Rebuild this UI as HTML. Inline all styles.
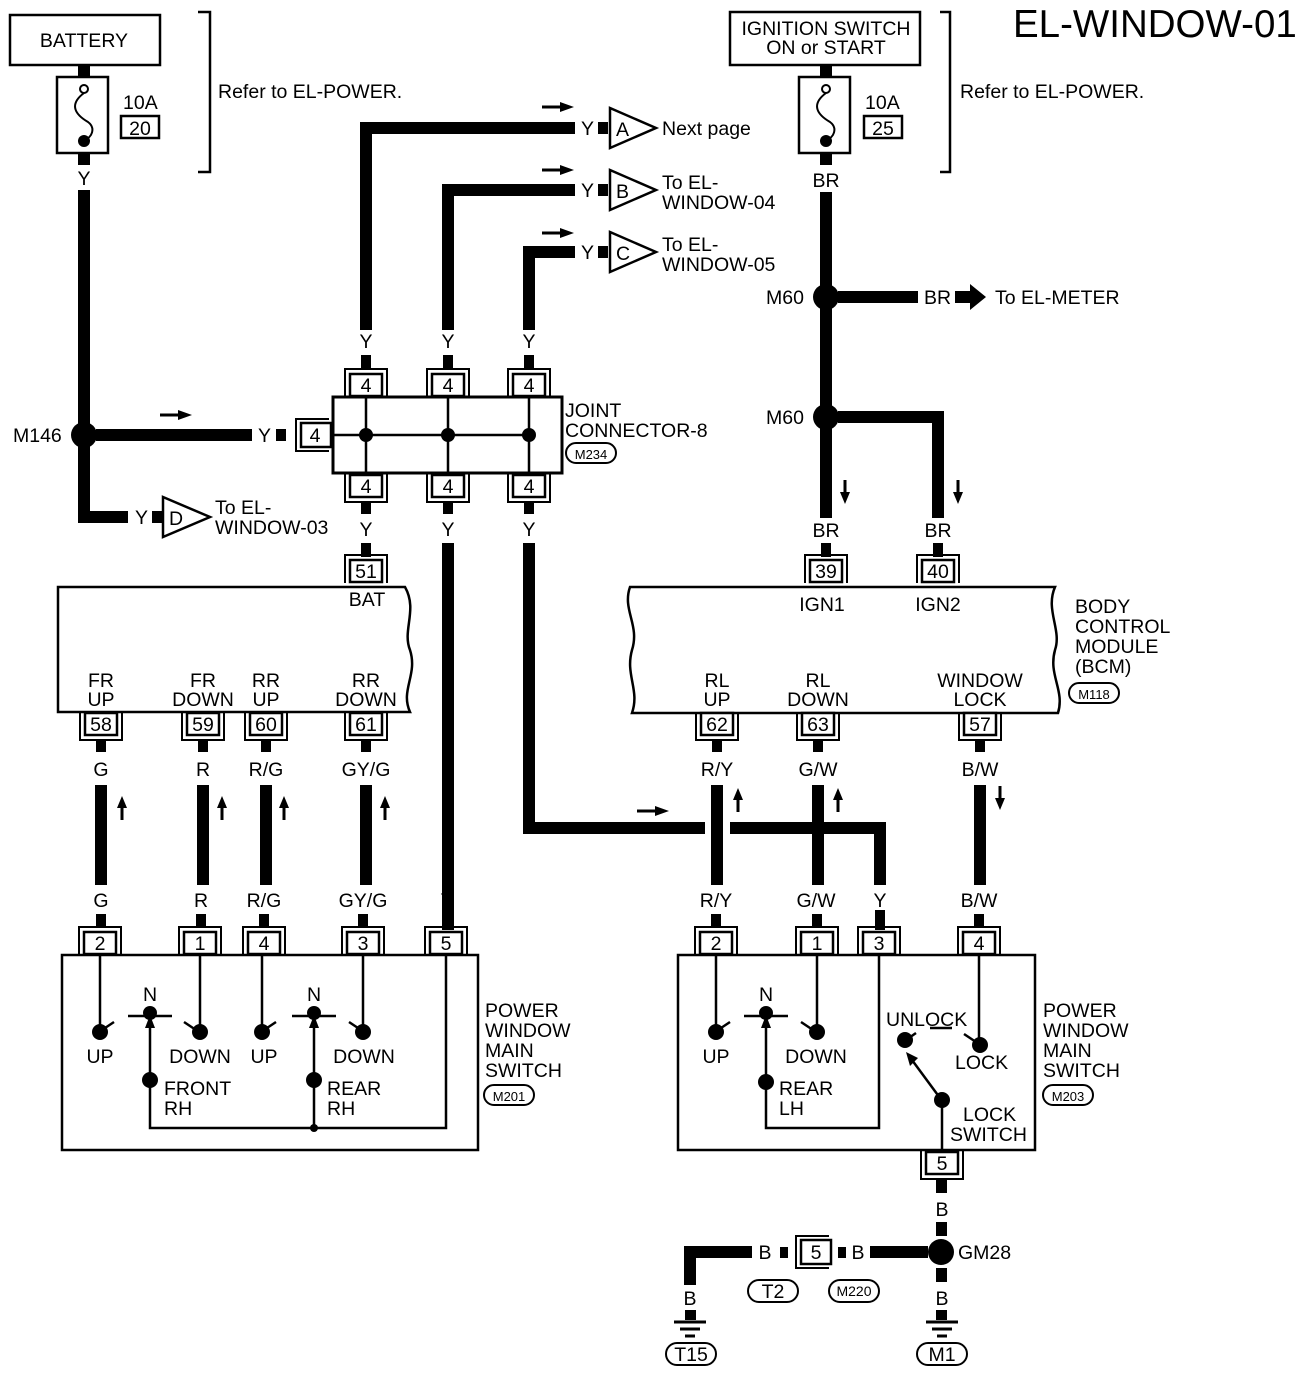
<!DOCTYPE html>
<html><head><meta charset="utf-8"><style>
html,body{margin:0;padding:0;background:#fff}
svg{display:block}
text{font-family:"Liberation Sans",Arial,sans-serif;fill:#000;font-size:19.5px}
</style></head><body>
<svg width="1312" height="1374" viewBox="0 0 1312 1374" xmlns="http://www.w3.org/2000/svg">
<defs>
<g id="ct"><rect x="-16" y="-11" width="32" height="22" fill="#fff" stroke="#000" stroke-width="2.5"/><path d="M-21,12 V-16 H21 V12" fill="none" stroke="#000" stroke-width="2"/></g>
<g id="cb"><rect x="-16" y="-11" width="32" height="22" fill="#fff" stroke="#000" stroke-width="2.5"/><path d="M-21,-12 V16 H21 V-12" fill="none" stroke="#000" stroke-width="2"/></g>
<g id="cs"><rect x="-14" y="-12" width="30" height="24" fill="#fff" stroke="#000" stroke-width="2.5"/><path d="M14,-16 H-19 V16 H14" fill="none" stroke="#000" stroke-width="2"/></g>
<g id="gnd" stroke="#000" stroke-width="3"><line x1="-16" y1="0" x2="16" y2="0"/><line x1="-10" y1="7" x2="10" y2="7"/><line x1="-5" y1="14" x2="5" y2="14"/></g>
<g id="aup"><line x1="0" y1="12" x2="0" y2="-2" stroke="#000" stroke-width="3"/><path d="M-5,0 L0,-12 L5,0Z"/></g>
<g id="adn"><line x1="0" y1="-12" x2="0" y2="2" stroke="#000" stroke-width="3"/><path d="M-5,0 L0,12 L5,0Z"/></g>
<g id="art"><line x1="-18" y1="0" x2="2" y2="0" stroke="#000" stroke-width="3"/><path d="M0,-5 L14,0 L0,5Z"/></g>
</defs>

<text x="1013" y="37" style="font-size:38.5px">EL-WINDOW-01</text>

<rect x="10" y="15" width="150" height="50" fill="none" stroke="#000" stroke-width="2.5"/>
<text x="84" y="47" text-anchor="middle">BATTERY</text>
<rect x="78" y="65" width="12" height="12"/>
<rect x="57" y="77" width="51" height="76" fill="none" stroke="#000" stroke-width="2.5"/>
<circle cx="84" cy="89" r="4" fill="#fff" stroke="#000" stroke-width="2"/>
<path d="M84,93 C68,105 76,115 88,122 C96,128 92,138 84,140" fill="none" stroke="#000" stroke-width="2"/>
<circle cx="84" cy="141" r="6"/>
<rect x="78" y="153" width="12" height="12"/>
<text x="123" y="109">10A</text>
<rect x="121" y="116" width="38" height="22" fill="none" stroke="#000" stroke-width="2.5"/>
<text x="140" y="135" text-anchor="middle">20</text>
<path d="M198,12 H210 V172 H198" fill="none" stroke="#000" stroke-width="2.5"/>
<text x="218" y="98">Refer to EL-POWER.</text>
<text x="84" y="185" text-anchor="middle">Y</text>
<path d="M84,190 V517 H128" fill="none" stroke="#000" stroke-width="12"/>
<circle cx="84" cy="435" r="13"/>
<text x="13" y="442">M146</text>
<line x1="96" y1="435" x2="252" y2="435" stroke="#000" stroke-width="12"/>
<use href="#art" x="178" y="415"/>
<text x="258" y="442">Y</text>
<rect x="276" y="429" width="10" height="12"/>
<use href="#cs" x="315" y="435"/>
<text x="315" y="442" text-anchor="middle">4</text>
<text x="135" y="524">Y</text>
<rect x="152" y="511" width="10" height="12"/>
<path d="M163,497 L210,517 L163,537Z" fill="#fff" stroke="#000" stroke-width="2.5"/>
<text x="169" y="525">D</text>
<text x="215" y="514">To EL-</text>
<text x="215" y="534">WINDOW-03</text>

<rect x="333" y="397" width="229" height="76" fill="#fff" stroke="#000" stroke-width="3"/>
<g stroke="#000" stroke-width="2.5"><line x1="366" y1="397" x2="366" y2="473"/><line x1="448" y1="397" x2="448" y2="473"/><line x1="529" y1="397" x2="529" y2="473"/><line x1="333" y1="435" x2="529" y2="435"/></g>
<circle cx="366" cy="435" r="7"/><circle cx="448" cy="435" r="7"/><circle cx="529" cy="435" r="7"/>
<use href="#ct" x="366" y="385"/><text x="366" y="392" text-anchor="middle">4</text>
<use href="#ct" x="448" y="385"/><text x="448" y="392" text-anchor="middle">4</text>
<use href="#ct" x="529" y="385"/><text x="529" y="392" text-anchor="middle">4</text>
<use href="#cb" x="366" y="486"/><text x="366" y="493" text-anchor="middle">4</text>
<use href="#cb" x="448" y="486"/><text x="448" y="493" text-anchor="middle">4</text>
<use href="#cb" x="529" y="486"/><text x="529" y="493" text-anchor="middle">4</text>
<text x="565" y="417">JOINT</text>
<text x="565" y="437">CONNECTOR-8</text>
<rect x="566" y="443" width="50" height="20" rx="10" fill="none" stroke="#000" stroke-width="2"/>
<text x="591" y="459" text-anchor="middle" style="font-size:13px">M234</text>

<g fill="none" stroke="#000" stroke-width="12">
<path d="M366,330 V128 H575"/><path d="M448,330 V190 H575"/><path d="M529,330 V252 H575"/>
</g>
<g fill="#000"><rect x="361" y="355" width="10" height="14"/><rect x="443" y="355" width="10" height="14"/><rect x="524" y="355" width="10" height="14"/></g>
<text x="366" y="348" text-anchor="middle">Y</text><text x="448" y="348" text-anchor="middle">Y</text><text x="529" y="348" text-anchor="middle">Y</text>
<use href="#art" x="560" y="107"/><use href="#art" x="560" y="170"/><use href="#art" x="560" y="233"/>
<text x="581" y="135">Y</text><rect x="598" y="122" width="10" height="12"/>
<path d="M610,108 L656,128 L610,148Z" fill="#fff" stroke="#000" stroke-width="2.5"/><text x="616" y="136">A</text>
<text x="662" y="135">Next page</text>
<text x="581" y="197">Y</text><rect x="598" y="184" width="10" height="12"/>
<path d="M610,170 L656,190 L610,210Z" fill="#fff" stroke="#000" stroke-width="2.5"/><text x="616" y="198">B</text>
<text x="662" y="189">To EL-</text><text x="662" y="209">WINDOW-04</text>
<text x="581" y="259">Y</text><rect x="598" y="246" width="10" height="12"/>
<path d="M610,232 L656,252 L610,272Z" fill="#fff" stroke="#000" stroke-width="2.5"/><text x="616" y="260">C</text>
<text x="662" y="251">To EL-</text><text x="662" y="271">WINDOW-05</text>

<g fill="#000"><rect x="361" y="502" width="10" height="12"/><rect x="443" y="502" width="10" height="12"/><rect x="524" y="502" width="10" height="12"/></g>
<text x="366" y="536" text-anchor="middle">Y</text><text x="448" y="536" text-anchor="middle">Y</text><text x="529" y="536" text-anchor="middle">Y</text>
<rect x="361" y="543" width="10" height="14"/>
<use href="#ct" x="366" y="571"/><text x="366" y="578" text-anchor="middle">51</text>
<g fill="none" stroke="#000" stroke-width="12">
<path d="M448,543 V930"/>
<path d="M529,543 V828 H705"/>
<path d="M730,828 H880 V885"/>
</g>
<rect x="875" y="910" width="10" height="20"/>
<use href="#art" x="655" y="811"/>

<path d="M58,587 H405 C418,610 402,630 410,650 C418,675 400,690 410,712 H58 Z" fill="#fff" stroke="#000" stroke-width="2.5"/>
<text x="367" y="606" text-anchor="middle">BAT</text>
<text x="101" y="687" text-anchor="middle">FR</text><text x="101" y="706" text-anchor="middle">UP</text>
<text x="203" y="687" text-anchor="middle">FR</text><text x="203" y="706" text-anchor="middle">DOWN</text>
<text x="266" y="687" text-anchor="middle">RR</text><text x="266" y="706" text-anchor="middle">UP</text>
<text x="366" y="687" text-anchor="middle">RR</text><text x="366" y="706" text-anchor="middle">DOWN</text>
<use href="#cb" x="101" y="724"/><text x="101" y="731" text-anchor="middle">58</text>
<use href="#cb" x="203" y="724"/><text x="203" y="731" text-anchor="middle">59</text>
<use href="#cb" x="266" y="724"/><text x="266" y="731" text-anchor="middle">60</text>
<use href="#cb" x="366" y="724"/><text x="366" y="731" text-anchor="middle">61</text>
<g fill="#000"><rect x="96" y="740" width="10" height="12"/><rect x="198" y="740" width="10" height="12"/><rect x="261" y="740" width="10" height="12"/><rect x="361" y="740" width="10" height="12"/></g>
<text x="101" y="776" text-anchor="middle">G</text><text x="203" y="776" text-anchor="middle">R</text><text x="266" y="776" text-anchor="middle">R/G</text><text x="366" y="776" text-anchor="middle">GY/G</text>
<g stroke="#000" stroke-width="12"><line x1="101" y1="785" x2="101" y2="885"/><line x1="203" y1="785" x2="203" y2="885"/><line x1="266" y1="785" x2="266" y2="885"/><line x1="366" y1="785" x2="366" y2="885"/></g>
<use href="#aup" x="122" y="808"/><use href="#aup" x="222" y="808"/><use href="#aup" x="284" y="808"/><use href="#aup" x="385" y="808"/>
<text x="101" y="907" text-anchor="middle">G</text><text x="201" y="907" text-anchor="middle">R</text><text x="264" y="907" text-anchor="middle">R/G</text><text x="363" y="907" text-anchor="middle">GY/G</text><text x="447" y="907" text-anchor="middle">Y</text>
<g fill="#000"><rect x="96" y="914" width="10" height="14"/><rect x="196" y="914" width="10" height="14"/><rect x="259" y="914" width="10" height="14"/><rect x="358" y="914" width="10" height="14"/><rect x="442" y="914" width="10" height="14"/></g>

<rect x="62" y="955" width="416" height="195" fill="#fff" stroke="#000" stroke-width="2.5"/>
<use href="#ct" x="100" y="943"/><text x="100" y="950" text-anchor="middle">2</text>
<use href="#ct" x="200" y="943"/><text x="200" y="950" text-anchor="middle">1</text>
<use href="#ct" x="264" y="943"/><text x="264" y="950" text-anchor="middle">4</text>
<use href="#ct" x="363" y="943"/><text x="363" y="950" text-anchor="middle">3</text>
<use href="#ct" x="446" y="943"/><text x="446" y="950" text-anchor="middle">5</text>
<g stroke="#000" stroke-width="2.5" fill="none">
<line x1="100" y1="955" x2="100" y2="1032"/><line x1="200" y1="955" x2="200" y2="1032"/>
<line x1="262" y1="955" x2="262" y2="1032"/><line x1="363" y1="955" x2="363" y2="1032"/>
<path d="M150,1020 V1128 H446 V955"/><path d="M314,1020 V1128"/>
<line x1="128" y1="1016" x2="172" y2="1016"/><line x1="292" y1="1016" x2="336" y2="1016"/>
<line x1="102" y1="1030" x2="114" y2="1022"/><line x1="196" y1="1030" x2="184" y2="1022"/>
<line x1="264" y1="1030" x2="276" y2="1022"/><line x1="361" y1="1030" x2="349" y2="1022"/>
</g>
<circle cx="100" cy="1032" r="8"/><circle cx="200" cy="1032" r="8"/><circle cx="262" cy="1032" r="8"/><circle cx="363" cy="1032" r="8"/>
<circle cx="150" cy="1013" r="7"/><circle cx="314" cy="1013" r="7"/>
<path d="M145,1028 L150,1015 L155,1028Z"/><path d="M309,1028 L314,1015 L319,1028Z"/>
<circle cx="150" cy="1080" r="8"/><circle cx="314" cy="1080" r="8"/><circle cx="314" cy="1128" r="4"/>
<text x="150" y="1001" text-anchor="middle">N</text><text x="314" y="1001" text-anchor="middle">N</text>
<text x="100" y="1063" text-anchor="middle">UP</text><text x="200" y="1063" text-anchor="middle">DOWN</text>
<text x="264" y="1063" text-anchor="middle">UP</text><text x="364" y="1063" text-anchor="middle">DOWN</text>
<text x="164" y="1095">FRONT</text><text x="164" y="1115">RH</text>
<text x="327" y="1095">REAR</text><text x="327" y="1115">RH</text>
<text x="485" y="1017">POWER</text><text x="485" y="1037">WINDOW</text><text x="485" y="1057">MAIN</text><text x="485" y="1077">SWITCH</text>
<rect x="484" y="1085" width="50" height="20" rx="10" fill="none" stroke="#000" stroke-width="2"/>
<text x="509" y="1101" text-anchor="middle" style="font-size:13px">M201</text>

<rect x="730" y="12" width="190" height="53" fill="none" stroke="#000" stroke-width="2.5"/>
<text x="826" y="35" text-anchor="middle">IGNITION SWITCH</text>
<text x="826" y="54" text-anchor="middle">ON or START</text>
<rect x="820" y="65" width="12" height="12"/>
<rect x="799" y="77" width="51" height="76" fill="none" stroke="#000" stroke-width="2.5"/>
<circle cx="826" cy="89" r="4" fill="#fff" stroke="#000" stroke-width="2"/>
<path d="M826,93 C810,105 818,115 830,122 C838,128 834,138 826,140" fill="none" stroke="#000" stroke-width="2"/>
<circle cx="826" cy="141" r="6"/>
<rect x="820" y="153" width="12" height="12"/>
<text x="865" y="109">10A</text>
<rect x="864" y="116" width="38" height="22" fill="none" stroke="#000" stroke-width="2.5"/>
<text x="883" y="135" text-anchor="middle">25</text>
<path d="M940,12 H950 V172 H940" fill="none" stroke="#000" stroke-width="2.5"/>
<text x="960" y="98">Refer to EL-POWER.</text>
<text x="826" y="187" text-anchor="middle">BR</text>
<line x1="826" y1="192" x2="826" y2="518" stroke="#000" stroke-width="12"/>
<circle cx="826" cy="297" r="13"/><text x="766" y="304">M60</text>
<line x1="838" y1="297" x2="918" y2="297" stroke="#000" stroke-width="12"/>
<text x="924" y="304">BR</text>
<path d="M955,291 H970 V284 L986,297 L970,310 V303 H955Z"/>
<text x="995" y="304">To EL-METER</text>
<circle cx="826" cy="417" r="13"/><text x="766" y="424">M60</text>
<path d="M838,417 H938 V518" fill="none" stroke="#000" stroke-width="12"/>
<use href="#adn" x="845" y="492"/><use href="#adn" x="958" y="492"/>
<text x="826" y="537" text-anchor="middle">BR</text><text x="938" y="537" text-anchor="middle">BR</text>
<rect x="821" y="543" width="10" height="14"/><rect x="933" y="543" width="10" height="14"/>
<use href="#ct" x="826" y="571"/><text x="826" y="578" text-anchor="middle">39</text>
<use href="#ct" x="938" y="571"/><text x="938" y="578" text-anchor="middle">40</text>

<path d="M630,587 H1055 C1045,610 1062,630 1055,650 C1048,675 1065,690 1058,713 H632 C640,690 625,675 632,650 C640,625 622,610 630,587Z" fill="#fff" stroke="#000" stroke-width="2.5"/>
<text x="822" y="611" text-anchor="middle">IGN1</text><text x="938" y="611" text-anchor="middle">IGN2</text>
<text x="717" y="687" text-anchor="middle">RL</text><text x="717" y="706" text-anchor="middle">UP</text>
<text x="818" y="687" text-anchor="middle">RL</text><text x="818" y="706" text-anchor="middle">DOWN</text>
<text x="980" y="687" text-anchor="middle">WINDOW</text><text x="980" y="706" text-anchor="middle">LOCK</text>
<text x="1075" y="613">BODY</text><text x="1075" y="633">CONTROL</text><text x="1075" y="653">MODULE</text><text x="1075" y="673">(BCM)</text>
<rect x="1069" y="683" width="50" height="20" rx="10" fill="none" stroke="#000" stroke-width="2"/>
<text x="1094" y="699" text-anchor="middle" style="font-size:13px">M118</text>
<use href="#cb" x="717" y="724"/><text x="717" y="731" text-anchor="middle">62</text>
<use href="#cb" x="818" y="724"/><text x="818" y="731" text-anchor="middle">63</text>
<use href="#cb" x="980" y="724"/><text x="980" y="731" text-anchor="middle">57</text>
<g fill="#000"><rect x="712" y="740" width="10" height="12"/><rect x="813" y="740" width="10" height="12"/><rect x="975" y="740" width="10" height="12"/></g>
<text x="717" y="776" text-anchor="middle">R/Y</text><text x="818" y="776" text-anchor="middle">G/W</text><text x="980" y="776" text-anchor="middle">B/W</text>
<g stroke="#000" stroke-width="12"><line x1="717" y1="785" x2="717" y2="885"/><line x1="818" y1="785" x2="818" y2="885"/><line x1="980" y1="785" x2="980" y2="885"/></g>
<use href="#aup" x="738" y="800"/><use href="#aup" x="838" y="800"/><use href="#adn" x="1000" y="798"/>
<text x="716" y="907" text-anchor="middle">R/Y</text><text x="816" y="907" text-anchor="middle">G/W</text><text x="880" y="907" text-anchor="middle">Y</text><text x="979" y="907" text-anchor="middle">B/W</text>
<g fill="#000"><rect x="711" y="914" width="10" height="14"/><rect x="812" y="914" width="10" height="14"/><rect x="974" y="914" width="10" height="14"/></g>

<rect x="678" y="955" width="357" height="195" fill="#fff" stroke="#000" stroke-width="2.5"/>
<use href="#ct" x="716" y="943"/><text x="716" y="950" text-anchor="middle">2</text>
<use href="#ct" x="817" y="943"/><text x="817" y="950" text-anchor="middle">1</text>
<use href="#ct" x="879" y="943"/><text x="879" y="950" text-anchor="middle">3</text>
<use href="#ct" x="979" y="943"/><text x="979" y="950" text-anchor="middle">4</text>
<g stroke="#000" stroke-width="2.5" fill="none">
<line x1="716" y1="955" x2="716" y2="1032"/><line x1="817" y1="955" x2="817" y2="1032"/>
<path d="M766,1020 V1128 H879 V955"/>
<line x1="744" y1="1016" x2="788" y2="1016"/>
<line x1="718" y1="1030" x2="730" y2="1022"/><line x1="813" y1="1030" x2="801" y2="1022"/>
<line x1="979" y1="955" x2="979" y2="1043"/>
<line x1="942" y1="1100" x2="942" y2="1150"/>
<line x1="940" y1="1098" x2="912" y2="1060"/>
<line x1="930" y1="1028" x2="952" y2="1028"/>
<line x1="906" y1="1040" x2="916" y2="1033"/><line x1="976" y1="1042" x2="964" y2="1034"/>
</g>
<path d="M906,1052 L910,1066 L918,1058Z"/>
<circle cx="716" cy="1032" r="8"/><circle cx="817" cy="1032" r="8"/><circle cx="766" cy="1013" r="7"/>
<path d="M761,1028 L766,1015 L771,1028Z"/>
<circle cx="766" cy="1082" r="8"/>
<circle cx="905" cy="1040" r="8"/><circle cx="980" cy="1045" r="8"/><circle cx="942" cy="1100" r="8"/>
<text x="766" y="1001" text-anchor="middle">N</text>
<text x="716" y="1063" text-anchor="middle">UP</text><text x="816" y="1063" text-anchor="middle">DOWN</text>
<text x="779" y="1095">REAR</text><text x="779" y="1115">LH</text>
<text x="886" y="1026">UNLOCK</text><text x="955" y="1069">LOCK</text>
<text x="963" y="1121">LOCK</text><text x="950" y="1141">SWITCH</text>
<text x="1043" y="1017">POWER</text><text x="1043" y="1037">WINDOW</text><text x="1043" y="1057">MAIN</text><text x="1043" y="1077">SWITCH</text>
<rect x="1043" y="1085" width="50" height="20" rx="10" fill="none" stroke="#000" stroke-width="2"/>
<text x="1068" y="1101" text-anchor="middle" style="font-size:13px">M203</text>
<use href="#cb" x="942" y="1163"/><text x="942" y="1170" text-anchor="middle">5</text>

<g fill="#000"><rect x="936" y="1180" width="11" height="13"/><rect x="936" y="1222" width="11" height="14"/><rect x="936" y="1268" width="11" height="14"/><rect x="936" y="1310" width="11" height="10"/></g>
<text x="942" y="1216" text-anchor="middle">B</text>
<circle cx="941" cy="1252" r="13"/>
<text x="958" y="1259">GM28</text>
<line x1="870" y1="1252" x2="928" y2="1252" stroke="#000" stroke-width="12"/>
<text x="858" y="1259" text-anchor="middle">B</text>
<rect x="838" y="1247" width="8" height="11"/><rect x="780" y="1247" width="8" height="11"/>
<use href="#cs" x="815" y="1252"/><text x="816" y="1259" text-anchor="middle">5</text>
<text x="765" y="1259" text-anchor="middle">B</text>
<path d="M752,1252 H690 V1285" fill="none" stroke="#000" stroke-width="12"/>
<text x="690" y="1305" text-anchor="middle">B</text>
<rect x="685" y="1310" width="11" height="10"/>
<use href="#gnd" x="690" y="1322"/>
<rect x="666" y="1343" width="50" height="22" rx="11" fill="none" stroke="#000" stroke-width="2"/>
<text x="691" y="1361" text-anchor="middle">T15</text>
<rect x="748" y="1280" width="50" height="22" rx="11" fill="none" stroke="#000" stroke-width="2"/>
<text x="773" y="1298" text-anchor="middle">T2</text>
<rect x="829" y="1280" width="50" height="22" rx="11" fill="none" stroke="#000" stroke-width="2"/>
<text x="854" y="1296" text-anchor="middle" style="font-size:14px">M220</text>
<text x="942" y="1305" text-anchor="middle">B</text>
<use href="#gnd" x="942" y="1322"/>
<rect x="917" y="1343" width="50" height="22" rx="11" fill="none" stroke="#000" stroke-width="2"/>
<text x="942" y="1361" text-anchor="middle">M1</text>
</svg>
</body></html>
